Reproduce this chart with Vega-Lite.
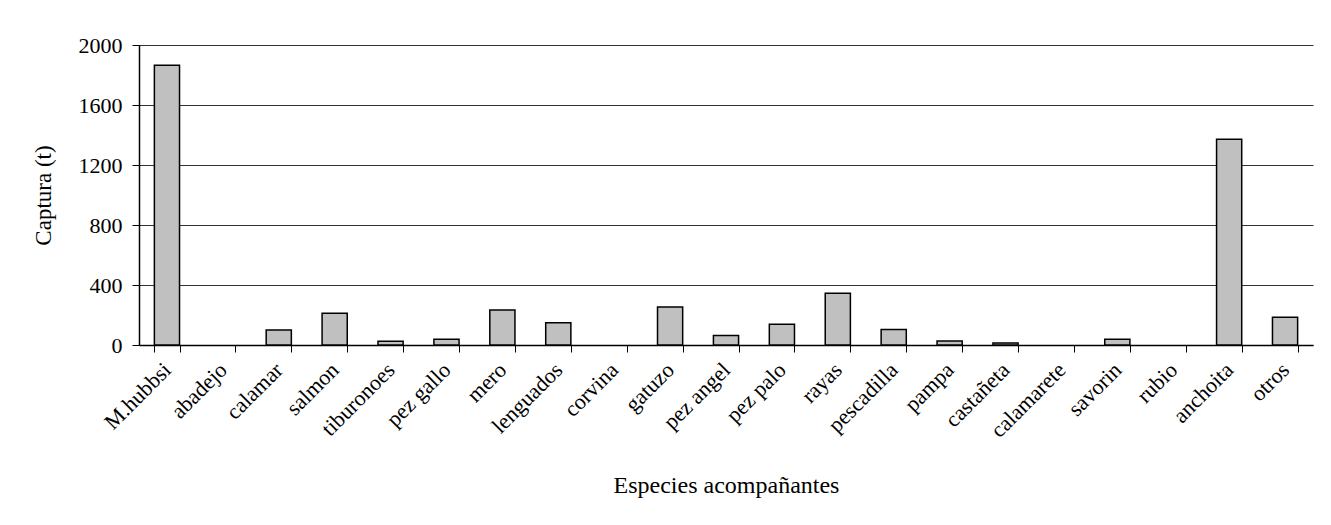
{
  "$schema": "https://vega.github.io/schema/vega-lite/v6.json",
  "width": 1174,
  "height": 300,
  "autosize": {"type": "none"},
  "padding": {"left": 139, "top": 45, "right": 18, "bottom": 180},
  "background": "#ffffff",
  "config": {
    "view": {"stroke": null},
    "font": "Liberation Serif",
    "axis": {"labelFont": "Liberation Serif", "titleFont": "Liberation Serif", "labelColor": "#000", "titleColor": "#000", "titleFontWeight": "normal"}
  },
  "data": {
    "values": [
      {"especie": "M.hubbsi", "captura": 1865},
      {"especie": "abadejo", "captura": 0},
      {"especie": "calamar", "captura": 100},
      {"especie": "salmon", "captura": 211},
      {"especie": "tiburonoes", "captura": 25},
      {"especie": "pez gallo", "captura": 39},
      {"especie": "mero", "captura": 233},
      {"especie": "lenguados", "captura": 149},
      {"especie": "corvina", "captura": 0},
      {"especie": "gatuzo", "captura": 254},
      {"especie": "pez angel", "captura": 64},
      {"especie": "pez palo", "captura": 139},
      {"especie": "rayas", "captura": 345},
      {"especie": "pescadilla", "captura": 103},
      {"especie": "pampa", "captura": 27},
      {"especie": "castañeta", "captura": 14},
      {"especie": "calamarete", "captura": 0},
      {"especie": "savorin", "captura": 38},
      {"especie": "rubio", "captura": 0},
      {"especie": "anchoita", "captura": 1371},
      {"especie": "otros", "captura": 185}
    ]
  },
  "mark": {"type": "bar", "fill": "#C0C0C0", "stroke": "#000000", "strokeWidth": 1.5},
  "encoding": {
    "strokeOpacity": {"condition": {"test": "datum.captura == 0", "value": 0}, "value": 1},
    "x": {
      "field": "especie",
      "type": "nominal",
      "sort": null,
      "scale": {"paddingInner": 0.55, "paddingOuter": 0.275},
      "axis": {
        "title": "Especies acompañantes",
        "titleFontSize": 24,
        "titleX": 587,
        "titleY": 147,
        "titleBaseline": "alphabetic",
        "titleAlign": "center",
        "labelAngle": -45,
        "labelAlign": "right",
        "labelBaseline": "middle",
        "labelFontSize": 22,
        "labelPadding": 14,
        "labelOverlap": false,
        "labelLimit": 200,
        "tickBand": "extent",
        "tickSize": 7,
        "tickColor": "#000",
        "tickWidth": 1,
        "domainColor": "#000",
        "domainWidth": 1.5,
        "grid": false
      }
    },
    "y": {
      "field": "captura",
      "type": "quantitative",
      "scale": {"domain": [0, 2000], "nice": false},
      "axis": {
        "title": "Captura (t)",
        "titleFontSize": 23,
        "titleAngle": -90,
        "titleX": -89,
        "titleY": 150,
        "titleAlign": "center",
        "titleBaseline": "alphabetic",
        "values": [0, 400, 800, 1200, 1600, 2000],
        "format": "d",
        "labelFontSize": 22,
        "labelPadding": 10,
        "tickSize": 7,
        "tickColor": "#000",
        "domainColor": "#000",
        "domainWidth": 1.5,
        "grid": true,
        "gridColor": "#333333",
        "gridWidth": 1
      }
    }
  }
}
